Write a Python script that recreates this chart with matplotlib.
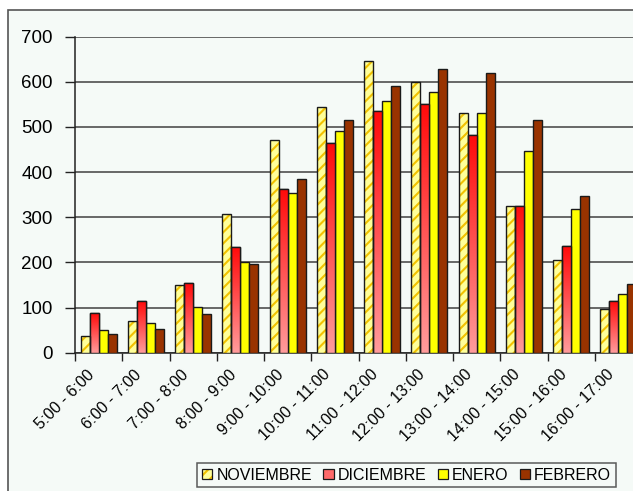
import matplotlib
matplotlib.use("Agg")
import matplotlib.pyplot as plt
import numpy as np
from matplotlib.patches import Rectangle, Patch
from matplotlib.legend_handler import HandlerTuple
from matplotlib.colors import LinearSegmentedColormap
from matplotlib.transforms import ScaledTranslation

categories = ["5:00 - 6:00", "6:00 - 7:00", "7:00 - 8:00", "8:00 - 9:00",
              "9:00 - 10:00", "10:00 - 11:00", "11:00 - 12:00", "12:00 - 13:00",
              "13:00 - 14:00", "14:00 - 15:00", "15:00 - 16:00", "16:00 - 17:00"]
noviembre = [38, 71, 150, 307, 472, 544, 646, 599, 530, 326, 206, 97]
diciembre = [87, 114, 155, 234, 362, 465, 535, 552, 482, 326, 236, 115]
enero = [51, 66, 102, 201, 353, 492, 557, 578, 530, 447, 318, 130]
febrero = [42, 53, 86, 197, 384, 516, 590, 629, 619, 516, 348, 152]
series_names = ["NOVIEMBRE", "DICIEMBRE", "ENERO", "FEBRERO"]
yticks = [0, 100, 200, 300, 400, 500, 600, 700]

plt.rcParams['font.family'] = ['Liberation Sans', 'DejaVu Sans']
plt.rcParams['hatch.linewidth'] = 1.5

BG = '#F5FAF7'
fig = plt.figure(figsize=(6.33, 4.91), dpi=100)
fig.patch.set_facecolor('white')
# outer chart border
fig.patches.append(Rectangle((8/633, -0.2), 1.2, 1.2 - 10/491,
                             transform=fig.transFigure, facecolor=BG,
                             edgecolor='#555555', linewidth=1.2, zorder=-5))

ax = fig.add_axes([75/633, 1 - 352.7/491, (642 - 75)/633, (352.7 - 36.7)/491])
ax.set_facecolor('none')
ax.set_zorder(2)

n = len(categories)
x = np.arange(n) + 0.5
w = 0.19
offs = [(k - 1.5) * w for k in range(4)]
EDGE = '#1a1a1a'

# NOVIEMBRE hatched
ax.bar(x + offs[0], noviembre, w, color='#FFFF99', edgecolor='#F2C200',
       hatch='///', linewidth=0, zorder=3)
ax.bar(x + offs[0], noviembre, w, fill=False, edgecolor=EDGE, linewidth=1.0, zorder=4)

# DICIEMBRE gradient
dic_bars = ax.bar(x + offs[1], diciembre, w, color='#FF6060', edgecolor=EDGE,
                  linewidth=1.0, zorder=3)
grad = np.linspace(0, 1, 256).reshape(-1, 1)
cmap = LinearSegmentedColormap.from_list('dic', ['#FF0A0A', '#FF9C9C'])
for r in dic_bars:
    x0, y0 = r.get_x(), r.get_y()
    im = ax.imshow(grad, cmap=cmap, aspect='auto', origin='upper',
                   extent=[x0, x0 + r.get_width(), y0, y0 + r.get_height()], zorder=3.5)
    im.set_clip_path(r)
ax.bar(x + offs[1], diciembre, w, fill=False, edgecolor=EDGE, linewidth=1.0, zorder=4)

# ENERO
ax.bar(x + offs[2], enero, w, color='#FFFF00', edgecolor=EDGE, linewidth=1.0, zorder=3)
# FEBRERO
ax.bar(x + offs[3], febrero, w, color='#993300', edgecolor=EDGE, linewidth=1.0, zorder=3)

ax.set_xlim(0, n)
ax.set_ylim(0, 700)
ax.set_yticks(yticks)
ax.set_yticklabels([str(v) for v in yticks], fontsize=13.5)
ax.yaxis.grid(True, color='#404040', linewidth=1.1, zorder=1)
ax.set_axisbelow(True)

ax.set_xticks(np.arange(n + 1))
ax.set_xticklabels([])
ax.set_xticks(x, minor=True)
ax.set_xticklabels(categories, minor=True, rotation=45, ha='right',
                   rotation_mode='anchor', fontsize=11.5)
ax.tick_params(axis='x', which='minor', length=0, pad=11)
ax.tick_params(axis='x', which='major', length=6, width=1, color='#222222', direction='out')
ax.tick_params(axis='y', length=7, width=1, color='#222222', direction='out', pad=9)
shift = ScaledTranslation(-12/100, 1/100, fig.dpi_scale_trans)
for lab in ax.get_xticklabels(minor=True):
    lab.set_transform(lab.get_transform() + shift)
for s in ['top', 'right']:
    ax.spines[s].set_visible(False)
for s in ['left', 'bottom']:
    ax.spines[s].set_color('#222222')
    ax.spines[s].set_linewidth(1.1)

h_nov = (Patch(facecolor='#FFFF99', edgecolor='#F2C200', hatch='///', linewidth=0),
         Patch(fill=False, edgecolor=EDGE, linewidth=0.9))
h_dic = Patch(facecolor='#FF6A6A', edgecolor=EDGE, linewidth=0.9)
h_ene = Patch(facecolor='#FFFF00', edgecolor=EDGE, linewidth=0.9)
h_feb = Patch(facecolor='#993300', edgecolor=EDGE, linewidth=0.9)
leg = fig.legend([h_nov, h_dic, h_ene, h_feb], series_names,
                 handler_map={tuple: HandlerTuple(ndivide=1, pad=0)},
                 loc='center', bbox_to_anchor=(406.5/633, 1 - 475/491), ncol=4,
                 fontsize=11.5, frameon=True, fancybox=False, handlelength=0.65,
                 handleheight=0.65, handletextpad=0.25, columnspacing=0.7,
                 borderpad=0.3, borderaxespad=0)
leg.get_frame().set_edgecolor('#333333')
leg.get_frame().set_facecolor(BG)
leg.get_frame().set_linewidth(1.1)

fig.savefig('out.png', dpi=100, facecolor=fig.get_facecolor())
